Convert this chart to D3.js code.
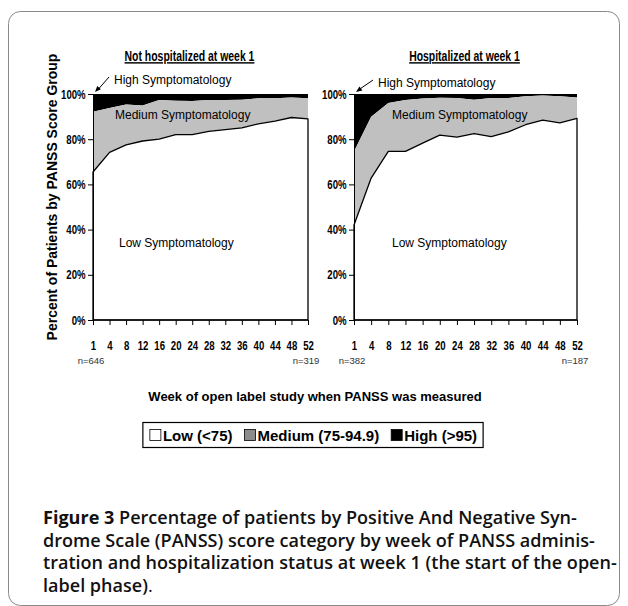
<!DOCTYPE html>
<html lang="en">
<head>
<meta charset="utf-8">
<title>PANSS score group by week</title>
<script src="https://d3js.org/d3.v7.min.js"></script>
<style>
body { margin: 0; background: #fff; }
.narrow { font-family: "Liberation Sans", Arial, sans-serif; font-weight: bold; }
.arial { font-family: "Liberation Sans", Arial, sans-serif; }
.axis path, .axis line { stroke: #000; stroke-width: 1; }
.caption { font-family: "Open Sans", "Noto Sans", sans-serif; fill: #111; }
</style>
</head>
<body>
<svg id="fig" width="628" height="606"></svg>
<script>
// weeks on the x axis
var weeks = [1, 4, 8, 12, 16, 20, 24, 28, 32, 36, 40, 44, 48, 52];
var yTicks = [0, 20, 40, 60, 80, 100];

// not hospitalized at week 1 (percent of patients)
var notHospLow    = [65.5, 74.2, 77.5, 79.2, 80.0, 82.0, 82.0, 83.5, 84.2, 85.0, 86.8, 88.0, 89.6, 89.0];
var notHospMedium = [26.6, 19.6, 17.9, 15.7, 17.4, 15.0, 14.9, 13.9, 13.1, 12.5, 11.3, 10.1, 8.9, 9.1];
var notHospHigh   = [7.9, 6.2, 4.6, 5.1, 2.6, 3.0, 3.1, 2.6, 2.7, 2.5, 1.9, 1.9, 1.5, 1.9];

// hospitalized at week 1
var hospLow    = [42.0, 62.8, 74.6, 74.6, 78.3, 81.8, 80.9, 82.5, 81.1, 83.2, 86.4, 88.4, 87.2, 89.2];
var hospMedium = [32.6, 27.1, 21.4, 22.8, 19.7, 16.5, 17.3, 15.0, 17.1, 15.0, 12.6, 10.9, 11.8, 9.3];
var hospHigh   = [25.4, 10.1, 4.0, 2.6, 2.0, 1.7, 1.8, 2.5, 1.8, 1.8, 1.0, 0.7, 1.0, 1.5];

var legendLabels = ["Low (<75)", "Medium (75-94.9)", "High (>95)"];
var captionLines = [
  "Percentage of patients by Positive And Negative Syn-",
  "drome Scale (PANSS) score category by week of PANSS adminis-",
  "tration and hospitalization status at week 1 (the start of the open-",
  "label phase)"
];

var panels = [
  { title: "Not hospitalized at week 1", low: notHospLow, medium: notHospMedium, high: notHospHigh,
    nFirst: "n=646", nLast: "n=319", left: 93, right: 308, highY: 80, shift: 0 },
  { title: "Hospitalized at week 1", low: hospLow, medium: hospMedium, high: hospHigh,
    nFirst: "n=382", nLast: "n=187", left: 354, right: 577, highY: 83, shift: 1 }
];

var keys = ["low", "medium", "high"];
var fills = { low: "#fff", medium: "#c0c0c0", high: "#000" };
var squeeze = 0.74;   // condensed look of the original axis font

var svg = d3.select("#fig");

// rounded frame
svg.append("rect")
  .attr("x", 8.5).attr("y", 11.5)
  .attr("width", 611).attr("height", 594)
  .attr("rx", 12)
  .attr("fill", "#fff")
  .attr("stroke", "#8a8a8a");

var y = d3.scaleLinear().domain([0, 100]).range([320, 94]);
var stack = d3.stack().keys(keys);

panels.forEach(function(p) {
  var rows = weeks.map(function(w, i) {
    return { week: w, low: p.low[i], medium: p.medium[i], high: p.high[i] };
  });
  var x = d3.scalePoint().domain(weeks).range([p.left, p.right]);
  var series = stack(rows);

  var area = d3.area()
    .x(function(d) { return x(d.data.week); })
    .y0(function(d) { return y(d[0]); })
    .y1(function(d) { return y(d[1]); });

  var g = svg.append("g");

  g.selectAll(".layer")
    .data(series.slice().reverse())
    .enter().append("path")
    .attr("class", "layer")
    .attr("d", area)
    .attr("fill", function(d) { return fills[d.key]; })
    .attr("stroke", function(d) { return d.key === "low" ? "#000" : "none"; })
    .attr("stroke-width", 1.3)
    .attr("stroke-linejoin", "round");

  // axes
  var xa = g.append("g")
    .attr("class", "axis narrow")
    .attr("transform", "translate(0," + y(0) + ")")
    .call(d3.axisBottom(x).tickSize(5).tickSizeOuter(0).tickPadding(16));
  xa.selectAll("text")
    .attr("font-size", 13).attr("fill", "#000")
    .attr("transform", "scale(" + squeeze + ",1)");
  xa.select(".domain").attr("d", "M" + p.left + ",0H" + p.right);

  var ya = g.append("g")
    .attr("class", "axis narrow")
    .attr("transform", "translate(" + p.left + ",0)")
    .call(d3.axisLeft(y).tickValues(yTicks).tickSize(5).tickSizeOuter(0).tickPadding(5)
      .tickFormat(function(d) { return d + "%"; }));
  ya.selectAll("text")
    .attr("font-size", 13).attr("fill", "#000")
    .attr("transform", "scale(" + squeeze + ",1)");

  // panel title
  g.append("text")
    .attr("class", "narrow")
    .attr("transform", "translate(" + ((p.left + p.right) / 2 - 11 + p.shift * 10) + ",61) scale(0.72,1)")
    .attr("text-anchor", "middle")
    .attr("font-size", 14.5)
    .attr("text-decoration", "underline")
    .text(p.title);

  // n counts under first and last weeks
  g.append("text").attr("class", "arial")
    .attr("x", x(weeks[0]) - 2).attr("y", 364)
    .attr("text-anchor", "middle").attr("font-size", 9.5).attr("fill", "#333")
    .text(p.nFirst);
  g.append("text").attr("class", "arial")
    .attr("x", x(weeks[weeks.length - 1]) - 2).attr("y", 364)
    .attr("text-anchor", "middle").attr("font-size", 9.5).attr("fill", "#333")
    .text(p.nLast);

  // region labels
  g.append("text").attr("class", "arial")
    .attr("x", p.left + 21 + p.shift * 3).attr("y", p.highY + 4).attr("font-size", 12)
    .text("High Symptomatology");
  g.append("text").attr("class", "arial")
    .attr("x", p.left + 22 + p.shift * 16).attr("y", 119).attr("font-size", 12)
    .text("Medium Symptomatology");
  g.append("text").attr("class", "arial")
    .attr("x", p.left + 26 + p.shift * 12).attr("y", 247).attr("font-size", 12)
    .text("Low Symptomatology");

  // small arrow to the high band
  var ax0 = p.left + 16 + p.shift * 3, ay0 = p.highY - 3, ax1 = p.left + 2, ay1 = y(100) - 2;
  g.append("line")
    .attr("x1", ax0).attr("y1", ay0).attr("x2", ax1 + 3).attr("y2", ay1 - 2.4)
    .attr("stroke", "#000").attr("stroke-width", 1);
  var ang = Math.atan2(ay1 - ay0, ax1 - ax0);
  var hl = 6, hw = 2.5;
  var bx = ax1 - hl * Math.cos(ang), by = ay1 - hl * Math.sin(ang);
  g.append("path")
    .attr("d", "M" + ax1 + "," + ay1 +
      "L" + (bx + hw * Math.sin(ang)) + "," + (by - hw * Math.cos(ang)) +
      "L" + (bx - hw * Math.sin(ang)) + "," + (by + hw * Math.cos(ang)) + "Z")
    .attr("fill", "#000");
});

// y axis title
svg.append("text")
  .attr("class", "arial")
  .attr("transform", "translate(57,197) rotate(-90)")
  .attr("text-anchor", "middle")
  .attr("font-size", 14)
  .attr("font-weight", "bold")
  .text("Percent of Patients by PANSS Score Group");

// x axis title
svg.append("text")
  .attr("class", "arial")
  .attr("x", 315).attr("y", 401)
  .attr("text-anchor", "middle")
  .attr("font-size", 13)
  .attr("font-weight", "bold")
  .text("Week of open label study when PANSS was measured");

// legend
var lg = svg.append("g");
var box = lg.append("rect")
  .attr("y", 422.5).attr("height", 25)
  .attr("fill", "#fff").attr("stroke", "#000").attr("stroke-width", 1.2);
var legendFills = ["#fff", "#8c8c8c", "#000"];
var gap = 11;
var cx = 0;
legendLabels.forEach(function(lab, i) {
  lg.append("rect")
    .attr("x", cx + 1).attr("y", 429.5).attr("width", 11).attr("height", 11)
    .attr("fill", legendFills[i]).attr("stroke", "#000").attr("stroke-width", 0.8)
    .attr("class", "li");
  var t = lg.append("text")
    .attr("class", "arial li")
    .attr("x", cx + 14).attr("y", 441)
    .attr("font-size", 15).attr("font-weight", "bold")
    .text(lab);
  cx += 14 + t.node().getComputedTextLength() + gap;
});
var legW = cx - gap + 12;
var legX = 313 - legW / 2;
lg.selectAll(".li").attr("transform", "translate(" + (legX + 6) + ",0)");
box.attr("x", legX).attr("width", legW);

// caption
var cap = svg.append("text").attr("class", "caption").attr("font-size", 16);
captionLines.forEach(function(line, i) {
  var t = cap.append("tspan").attr("x", 43).attr("y", 524 + i * 22.5);
  if (i === 0) {
    t.append("tspan").attr("font-weight", 700).text("Figure 3 ");
  }
  t.append("tspan").attr("font-weight", 600).text(line);
  if (i === captionLines.length - 1) {
    t.append("tspan").attr("font-weight", 400).text(".");
  }
});
// fit first line to the printed width
var first = cap.select("tspan").node();
var w = first.getComputedTextLength();
cap.attr("font-size", 16 * 534 / w);
</script>
</body>
</html>
